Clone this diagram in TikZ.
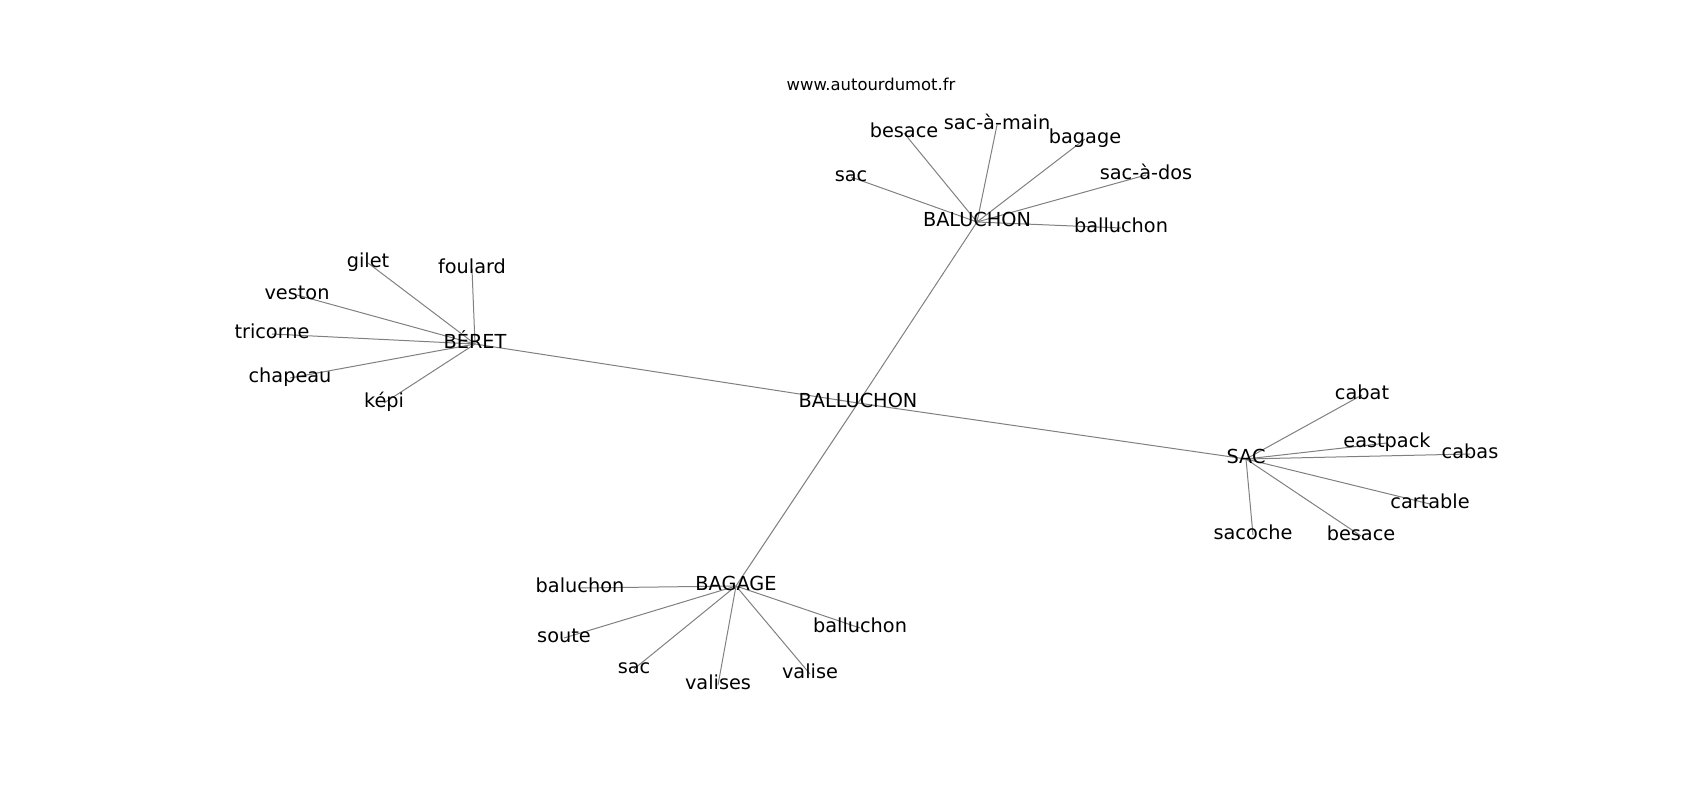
\documentclass[tikz,border=0pt]{standalone}
\usepackage{fontspec}
\setmainfont{DejaVu Sans}
\usetikzlibrary{backgrounds}
\tikzset{
  word/.style={inner sep=0pt, text height=0.9em, text depth=0.1em,
    font=\fontsize{19.3}{22}\selectfont},
  edge/.style={draw=gray, line width=1pt},
}
\begin{document}
\begin{tikzpicture}[x=1pt,y=-1pt]
  \useasboundingbox (0,0) rectangle (1700,800);
  \node[inner sep=0pt, font=\fontsize{16.4}{19}\selectfont] (site) at (871,84) {www.autourdumot.fr};

  %%%%%%%%%%%%%The middle word%%%%%%%%%%%%%%%%%%%%%%
  \node[word] (mid) at (858,403) {BALLUCHON};

  %%%%%%%%%%%%%The BALUCHON star%%%%%%%%%%%%%%%%%%%%%%
  \node[word] (baluchon) at (977,222) {BALUCHON};
  \node[word] (sacA) at (851,177) {sac};
  \node[word] (besaceA) at (904,133) {besace};
  \node[word] (sacmain) at (997,125) {sac-à-main};
  \node[word] (bagageA) at (1085,139) {bagage};
  \node[word] (sacdos) at (1146,175) {sac-à-dos};
  \node[word] (balluchonA) at (1121,228) {balluchon};

  %%%%%%%%%%%%%The BÉRET star%%%%%%%%%%%%%%%%%%%%%%
  \node[word] (beret) at (475,344) {BÉRET};
  \node[word] (gilet) at (368,263) {gilet};
  \node[word] (foulard) at (472,269) {foulard};
  \node[word] (veston) at (297,295) {veston};
  \node[word] (tricorne) at (272,334) {tricorne};
  \node[word] (chapeau) at (290,378) {chapeau};
  \node[word] (kepi) at (384,403) {képi};

  %%%%%%%%%%%%%The SAC star%%%%%%%%%%%%%%%%%%%%%%
  \node[word] (sac) at (1246,459) {SAC};
  \node[word] (cabat) at (1362,395) {cabat};
  \node[word] (eastpack) at (1387,443) {eastpack};
  \node[word] (cabas) at (1470,454) {cabas};
  \node[word] (cartable) at (1430,504) {cartable};
  \node[word] (besaceC) at (1361,536) {besace};
  \node[word] (sacoche) at (1253,535) {sacoche};

  %%%%%%%%%%%%%The BAGAGE star%%%%%%%%%%%%%%%%%%%%%%
  \node[word] (bagage) at (736,586) {BAGAGE};
  \node[word] (baluchonD) at (580,588) {baluchon};
  \node[word] (soute) at (564,638) {soute};
  \node[word] (sacD) at (634,669) {sac};
  \node[word] (valises) at (718,685) {valises};
  \node[word] (valise) at (810,674) {valise};
  \node[word] (balluchonD) at (860,628) {balluchon};

  \begin{pgfonlayer}{background}
    \foreach \hub in {baluchon,beret,sac,bagage}
      \draw[edge] (mid.center) -- (\hub.center);
    \foreach \leaf in {sacA,besaceA,sacmain,bagageA,sacdos,balluchonA}
      \draw[edge] (baluchon.center) -- (\leaf.center);
    \foreach \leaf in {gilet,foulard,veston,tricorne,chapeau,kepi}
      \draw[edge] (beret.center) -- (\leaf.center);
    \foreach \leaf in {cabat,eastpack,cabas,cartable,besaceC,sacoche}
      \draw[edge] (sac.center) -- (\leaf.center);
    \foreach \leaf in {baluchonD,soute,sacD,valises,valise,balluchonD}
      \draw[edge] (bagage.center) -- (\leaf.center);
  \end{pgfonlayer}
\end{tikzpicture}
\end{document}
